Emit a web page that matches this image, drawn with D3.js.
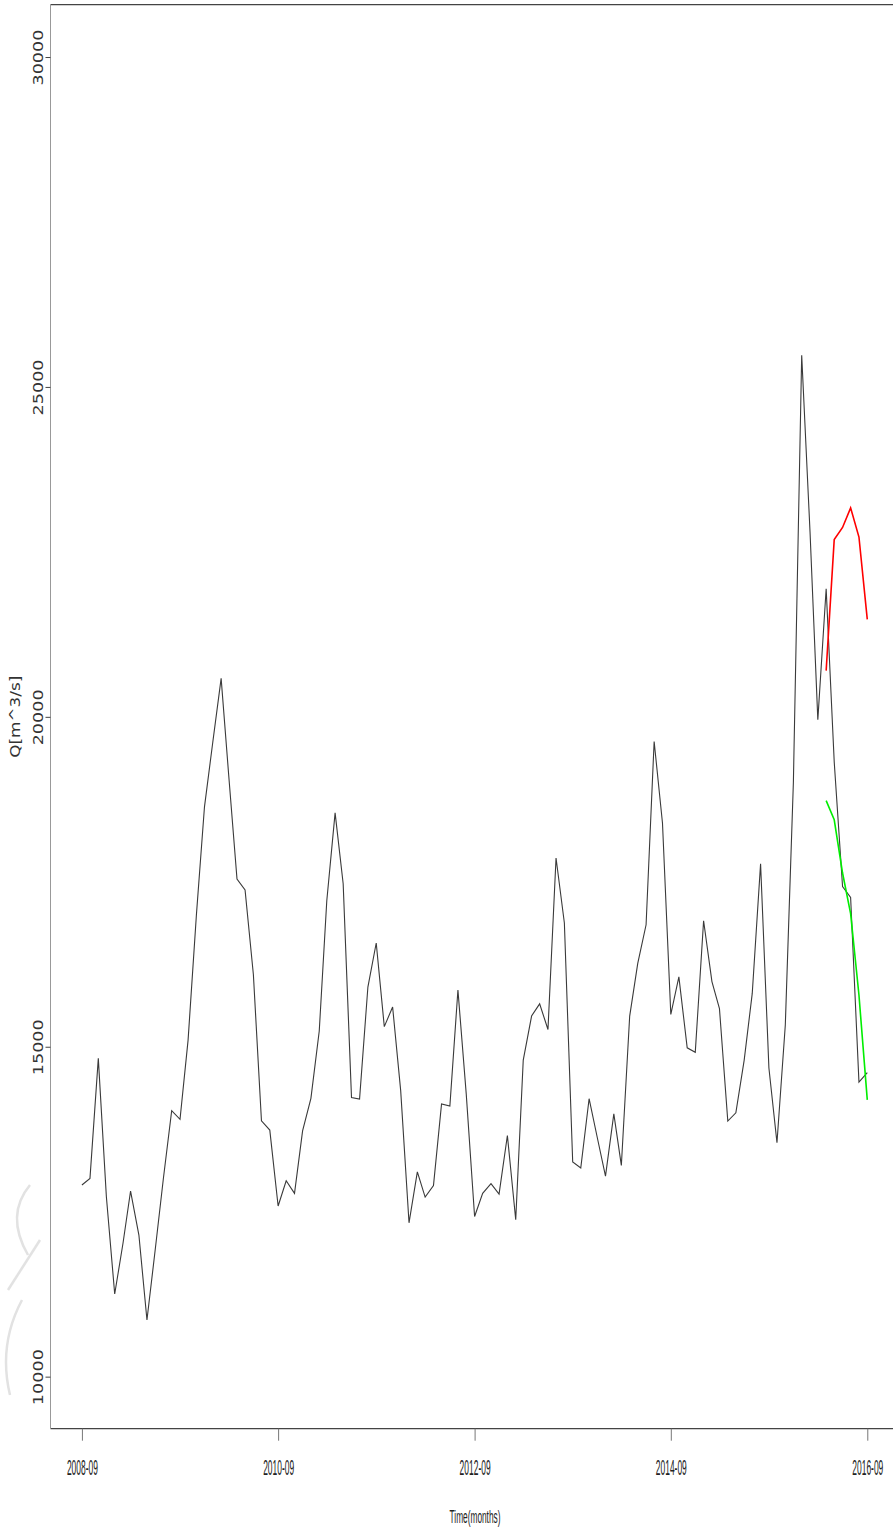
<!DOCTYPE html>
<html>
<head>
<meta charset="utf-8">
<script src="https://cdn.jsdelivr.net/npm/d3@7"></script>
<style>
html,body{margin:0;padding:0;background:#fff;overflow:hidden;}
svg{display:block;}
</style>
</head>
<body>
<svg id="chart" width="893" height="1533"></svg>
<script>
// ---- data ----
const startMonth = "2008-09";
const observed = [
12904,13005,14824,12727,11252,12025,12813,12146,10858,11934,
13000,14031,13900,15100,17000,18636,19618,20583,19123,17542,
17375,16090,13878,13737,12586,12969,12778,13725,14218,15238,
17208,18545,17471,14230,14207,15905,16572,15305,15602,14335,
12331,13104,12722,12895,14132,14101,15859,14278,12427,12778,
12924,12767,13654,12377,14798,15465,15650,15261,17860,16875,
13253,13163,14212,13632,13040,13983,13201,15465,16263,16848,
19627,18390,15490,16059,14984,14915,16909,15988,15578,13874,
13998,14798,15808,17774,14677,13545,15329,19000,25480,22800,
19955,21940,19315,17428,17264,14465,14606
];
const forecastStartIndex = 91;
const redSeries = [20700,22688,22870,23167,22725,21477];
const greenSeries = [18730,18440,17633,17017,15784,14195];
const xTickLabels = ["2008-09","2010-09","2012-09","2014-09","2016-09"];
const yTickValues = [10000,15000,20000,25000,30000];
const xTitle = "Time(months)";
const yTitle = "Q[m^3/s]";

// ---- layout ----
const svg = d3.select("#chart");
const plot = {left:50.5, right:898.7, top:4.7, bottom:1428.7};
const parse = d3.timeParse("%Y-%m");
const t0 = parse(startMonth);
const dateAt = i => d3.timeMonth.offset(t0, i);
const tEnd = dateAt(observed.length-1);
const span = tEnd - t0;

const x = d3.scaleTime()
  .domain([new Date(+t0 - span*0.04), new Date(+tEnd + span*0.04)])
  .range([plot.left, plot.right]);
const y = d3.scaleLinear()
  .domain([9211, 30793])
  .range([plot.bottom, plot.top]);

// faint watermark arcs at lower left
const wm = svg.append("g").attr("fill","none").attr("stroke","#e2e2e2").attr("stroke-width",2.5);
wm.append("path").attr("d","M30,1185 Q5,1215 28,1255");
wm.append("path").attr("d","M40,1240 L8,1290");
wm.append("path").attr("d","M22,1300 Q-2,1345 10,1395");

// box
svg.append("line").attr("x1",plot.left).attr("x2",plot.right).attr("y1",plot.top).attr("y2",plot.top)
  .attr("stroke","#444").attr("stroke-width",1.3);
svg.append("line").attr("x1",plot.left).attr("x2",plot.right).attr("y1",plot.bottom).attr("y2",plot.bottom)
  .attr("stroke","#444").attr("stroke-width",1.3);
svg.append("line").attr("x1",plot.left).attr("x2",plot.left).attr("y1",plot.top).attr("y2",plot.bottom)
  .attr("stroke","#999").attr("stroke-width",1);

// horizontally condensed text helper
function condense(sel, target){
  sel.each(function(){
    const w = this.getComputedTextLength();
    const s = w > 0 ? target / w : 1;
    const base = d3.select(this).attr("data-base") || "";
    d3.select(this).attr("transform", base + ` scale(${s},1)`);
  });
}

// x axis
const xAxis = d3.axisBottom(x)
  .tickValues(xTickLabels.map(parse))
  .tickSize(12).tickSizeOuter(0)
  .tickFormat(d3.timeFormat("%Y-%m"));
const gx = svg.append("g").attr("transform",`translate(0,${plot.bottom})`).call(xAxis);
gx.select(".domain").remove();
gx.selectAll(".tick line").attr("stroke","#777").attr("stroke-width",1);
const xt = gx.selectAll(".tick text")
  .attr("y",46).attr("dy",0).attr("x",0)
  .attr("font-family","'Liberation Sans Narrow','Liberation Sans',Arial,sans-serif")
  .attr("font-size",22).attr("fill","#222");
condense(xt, 31);

// y axis
const yAxis = d3.axisLeft(y).tickValues(yTickValues).tickSize(5).tickSizeOuter(0).tickFormat(d3.format("d"));
const gy = svg.append("g").attr("transform",`translate(${plot.left},0)`).call(yAxis);
gy.select(".domain").remove();
gy.selectAll(".tick line").attr("stroke","#444");
gy.selectAll(".tick text").remove();
gy.selectAll(".tick").append("text")
  .attr("transform","translate(-7.5,0) rotate(-90)")
  .attr("text-anchor","middle")
  .attr("font-family","'DejaVu Sans',sans-serif")
  .attr("font-size",14.5).attr("fill","#333")
  .attr("textLength",56).attr("lengthAdjust","spacingAndGlyphs")
  .text(d => d3.format("d")(d));

// titles
const xtl = svg.append("text")
  .attr("data-base","translate(475,1523)")
  .attr("text-anchor","middle")
  .attr("font-family","'Liberation Sans Narrow','Liberation Sans',Arial,sans-serif")
  .attr("font-size",19).attr("fill","#222")
  .text(xTitle);
condense(xtl, 51);
svg.append("text").attr("transform",`translate(20,${(plot.top+plot.bottom)/2}) rotate(-90)`)
  .attr("text-anchor","middle")
  .attr("font-family","'DejaVu Sans',sans-serif")
  .attr("font-size",14).attr("fill","#333")
  .attr("textLength",82).attr("lengthAdjust","spacingAndGlyphs")
  .text(yTitle);

// lines
const line = d3.line().x(d => x(d.date)).y(d => y(d.v));
const obsData = observed.map((v,i)=>({date:dateAt(i), v}));
const redData = redSeries.map((v,i)=>({date:dateAt(forecastStartIndex+i), v}));
const greenData = greenSeries.map((v,i)=>({date:dateAt(forecastStartIndex+i), v}));

svg.append("path").datum(obsData).attr("d",line).attr("fill","none")
  .attr("stroke","#3a3a3a").attr("stroke-width",1.1).attr("stroke-linejoin","miter");
svg.append("path").datum(redData).attr("d",line).attr("fill","none")
  .attr("stroke","#ff0000").attr("stroke-width",1.6);
svg.append("path").datum(greenData).attr("d",line).attr("fill","none")
  .attr("stroke","#00ee00").attr("stroke-width",1.6);
</script>
</body>
</html>
